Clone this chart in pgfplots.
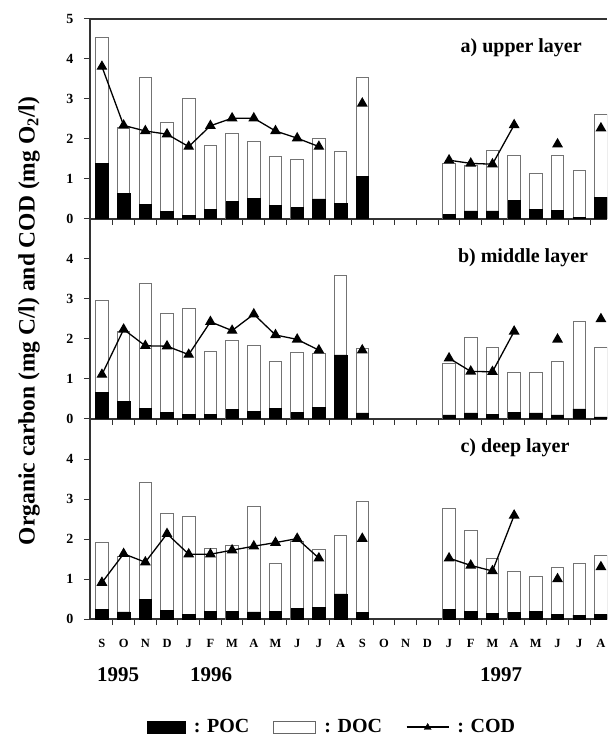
\documentclass[border=0pt]{standalone}
\usepackage{pgfplots}
\pgfplotsset{compat=1.18}
\usepackage{pgfplotstable}
\usepackage{fontspec}
\setmainfont{Liberation Serif}

% x: 0=Sep 1995 ... 23=Aug 1997 ; poc, tot = POC+DOC, cod
\pgfplotstableread{
x poc tot cod
0 1.38 4.55 3.81
1 0.63 2.30 2.34
2 0.37 3.55 2.20
3 0.19 2.42 2.12
4 0.08 3.01 1.81
5 0.24 1.85 2.33
6 0.43 2.13 2.52
7 0.52 1.94 2.52
8 0.33 1.56 2.20
9 0.28 1.48 2.02
10 0.50 2.02 1.81
11 0.38 1.68 nan
12 1.06 3.54 2.89
13 nan nan nan
14 nan nan nan
15 nan nan nan
16 0.12 1.39 1.47
17 0.20 1.35 1.39
18 0.20 1.72 1.37
19 0.46 1.58 2.35
20 0.24 1.14 nan
21 0.22 1.60 1.87
22 0.04 1.21 nan
23 0.54 2.62 2.27
}\uppertab

\pgfplotstableread{
x poc tot cod
0 0.66 2.97 1.11
1 0.43 2.20 2.24
2 0.27 3.40 1.83
3 0.16 2.64 1.82
4 0.12 2.77 1.61
5 0.12 1.70 2.43
6 0.23 1.97 2.21
7 0.18 1.84 2.62
8 0.27 1.45 2.10
9 0.16 1.66 1.99
10 0.29 1.64 1.72
11 1.60 3.60 nan
12 0.15 1.76 1.72
13 nan nan nan
14 nan nan nan
15 nan nan nan
16 0.10 1.39 1.52
17 0.15 2.03 1.19
18 0.12 1.78 1.18
19 0.17 1.17 2.19
20 0.15 1.17 nan
21 0.10 1.43 1.99
22 0.25 2.44 nan
23 0.05 1.78 2.50
}\midtab

\pgfplotstableread{
x poc tot cod
0 0.24 1.91 0.91
1 0.18 1.56 1.63
2 0.50 3.41 1.42
3 0.22 2.64 2.13
4 0.12 2.56 1.62
5 0.20 1.76 1.62
6 0.20 1.85 1.72
7 0.18 2.82 1.82
8 0.20 1.38 1.91
9 0.26 1.95 2.01
10 0.30 1.74 1.52
11 0.63 2.10 nan
12 0.16 2.94 2.01
13 nan nan nan
14 nan nan nan
15 nan nan nan
16 0.24 2.76 1.52
17 0.20 2.21 1.34
18 0.14 1.52 1.20
19 0.16 1.18 2.59
20 0.20 1.07 nan
21 0.11 1.28 1.00
22 0.10 1.40 nan
23 0.11 1.60 1.30
}\deeptab

\pgfplotsset{
  panel/.style={
    anchor=south west, scale only axis, width=517pt, height=200pt,
    xmin=-0.55, xmax=23.28, ymin=0, ymax=5,
    axis x line*=bottom, axis y line*=left,
    axis line style={-, black!80, line width=1.2pt},
    xtick={0,...,23}, xticklabels={},
    major x tick style={draw=none},
    minor xtick={0.5,1.5,...,22.5},
    tick align=outside, major tick length=6pt, minor tick length=6pt,
    tick style={black!80, line width=1pt},
    yticklabel style={font=\fontsize{14}{14}\selectfont\bfseries, xshift=-7pt},
    /pgf/number format/assume math mode=true,
    unbounded coords=jump,
  },
  totbar/.style={ybar, bar width=12.5pt, bar shift=0pt, fill=white, draw=black!55, line width=0.9pt, forget plot},
  pocbar/.style={ybar, bar width=12.5pt, bar shift=0pt, fill=black, draw=black, line width=0.6pt, forget plot},
  codline/.style={black, line width=1.3pt, mark=triangle*, mark size=5pt, mark options={solid}, forget plot},
}
\tikzset{ttl/.style={anchor=west, font=\fontsize{20}{20}\selectfont\bfseries}}

\begin{document}
\begin{tikzpicture}
\useasboundingbox (-90pt,-119pt) rectangle (517pt,619pt);

% upper panel
\begin{axis}[panel, at={(0pt,400pt)}, ytick={0,...,5}]
\addplot[totbar] table[x=x,y=tot]{\uppertab};
\addplot[pocbar] table[x=x,y=poc]{\uppertab};
\addplot[codline] table[x=x,y=cod]{\uppertab};
\draw[black!80, line width=1.2pt] (rel axis cs:0,1) -- (rel axis cs:1,1);
\node[ttl] at (rel axis cs:0.71,0.855) {a) upper layer};
\end{axis}

% middle panel
\begin{axis}[panel, at={(0pt,200pt)}, ytick={0,...,4}]
\addplot[totbar] table[x=x,y=tot]{\midtab};
\addplot[pocbar] table[x=x,y=poc]{\midtab};
\addplot[codline] table[x=x,y=cod]{\midtab};
\node[ttl] at (rel axis cs:0.705,0.805) {b) middle layer};
\end{axis}

% deep panel
\begin{axis}[panel, at={(0pt,0pt)}, ytick={0,...,4},
  xticklabels={S,O,N,D,J,F,M,A,M,J,J,A,S,O,N,D,J,F,M,A,M,J,J,A},
  xticklabel style={font=\fontsize{12.5}{12.5}\selectfont\bfseries, yshift=-11pt},
  legend columns=3,
  legend style={draw=none, fill=none, at={(0.105,-0.54)}, anchor=west,
    font=\fontsize{20}{20}\selectfont\bfseries,
    /tikz/every odd column/.append style={column sep=6pt},
    /tikz/every even column/.append style={column sep=22pt}},
]
\addplot[totbar] table[x=x,y=tot]{\deeptab};
\addplot[pocbar] table[x=x,y=poc]{\deeptab};
\addplot[codline] table[x=x,y=cod]{\deeptab};
\addlegendimage{legend image code/.code={\fill[black] (0pt,-6pt) rectangle (38pt,6pt);}}
\addlegendentry{: POC}
\addlegendimage{legend image code/.code={\draw[black!60, line width=0.9pt, fill=white] (0pt,-6pt) rectangle (42pt,6pt);}}
\addlegendentry{: DOC}
\addlegendimage{legend image code/.code={\draw[black, line width=1.2pt] (0pt,0pt) -- (42pt,0pt); \fill[black] (17.5pt,-2.5pt) -- (24.5pt,-2.5pt) -- (21pt,3.5pt) -- cycle;}}
\addlegendentry{: COD}
\node[ttl] at (rel axis cs:0.71,0.855) {c) deep layer};
\end{axis}

\node[font=\fontsize{21}{21}\selectfont\bfseries] at (28pt,-56pt) {1995};
\node[font=\fontsize{21}{21}\selectfont\bfseries] at (121pt,-56pt) {1996};
\node[font=\fontsize{21}{21}\selectfont\bfseries] at (411pt,-56pt) {1997};
\node[rotate=90, font=\fontsize{23.5}{23.5}\selectfont\bfseries] at (-61pt,298pt)
  {Organic carbon (mg C/l) and COD (mg O\textsubscript{2}/l)};
\end{tikzpicture}
\end{document}
